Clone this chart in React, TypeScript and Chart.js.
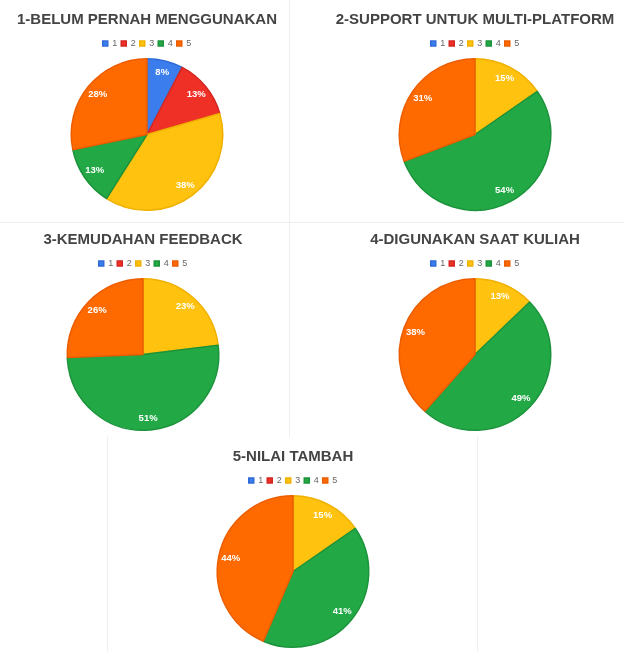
import React, { useEffect, useRef } from "react";
import { Chart, registerables } from "chart.js";

Chart.register(...registerables);

// ---- data ----
const categories = ["1", "2", "3", "4", "5"];
const titles = [
  "1-BELUM PERNAH MENGGUNAKAN",
  "2-SUPPORT UNTUK MULTI-PLATFORM",
  "3-KEMUDAHAN FEEDBACK",
  "4-DIGUNAKAN SAAT KULIAH",
  "5-NILAI TAMBAH",
];
const belumPernah = [3, 5, 15, 5, 11];
const supportMulti = [0, 0, 6, 21, 12];
const kemudahanFeedback = [0, 0, 9, 20, 10];
const digunakanKuliah = [0, 0, 5, 19, 15];
const nilaiTambah = [0, 0, 6, 16, 17];
const seriesList = [belumPernah, supportMulti, kemudahanFeedback, digunakanKuliah, nilaiTambah];

// ---- styles ----
const sliceColors = ["#3b7ded", "#ee3027", "#ffc20e", "#22a946", "#ff6a00"];
const sliceBorders = ["#2f6bd6", "#d42620", "#f0b000", "#1b933b", "#ec5d00"];
const FONT = "'Liberation Sans', Arial, sans-serif";

const panels = [
  { left: 0, top: 0, width: 294 },
  { left: 326, top: 0, width: 298 },
  { left: 0, top: 220, width: 286 },
  { left: 326, top: 220, width: 298 },
  { left: 143, top: 437, width: 300 },
];
const PANEL_H = 220;

const pctLabels = {
  id: "pctLabels",
  afterDatasetsDraw(chart: any) {
    const ctx = chart.ctx;
    const meta = chart.getDatasetMeta(0);
    const data = chart.data.datasets[0].data as number[];
    const total = data.reduce((a, b) => a + b, 0);
    ctx.save();
    ctx.font = `bold 9.5px ${FONT}`;
    ctx.fillStyle = "#ffffff";
    ctx.textAlign = "center";
    ctx.textBaseline = "middle";
    meta.data.forEach((arc: any, i: number) => {
      const v = data[i];
      if (!v) return;
      const p = arc.getProps(["x", "y", "startAngle", "endAngle", "outerRadius"], true);
      const mid = (p.startAngle + p.endAngle) / 2;
      const r = p.outerRadius * 0.84;
      ctx.fillText(Math.round((v / total) * 100) + "%", p.x + Math.cos(mid) * r, p.y + Math.sin(mid) * r);
    });
    ctx.restore();
  },
};

function PiePanel({ idx }: { idx: number }) {
  const ref = useRef<HTMLCanvasElement | null>(null);
  const pan = panels[idx];
  useEffect(() => {
    if (!ref.current) return;
    const chart = new Chart(ref.current, {
      type: "pie",
      data: {
        labels: categories,
        datasets: [
          {
            data: seriesList[idx],
            backgroundColor: sliceColors,
            borderColor: sliceBorders,
            borderWidth: 1.5,
          },
        ],
      },
      options: {
        responsive: false,
        animation: false,
        layout: { padding: { bottom: 9 } },
        plugins: {
          title: {
            display: true,
            text: titles[idx],
            color: "#444444",
            font: { family: FONT, size: 15, weight: "bold" },
            padding: { top: 11, bottom: 6 },
          },
          legend: {
            display: true,
            position: "top",
            labels: {
              boxWidth: 5,
              boxHeight: 5,
              padding: 4,
              color: "#666666",
              font: { family: FONT, size: 9 },
            },
          },
          tooltip: { enabled: false },
        },
      },
      plugins: [pctLabels],
    });
    return () => chart.destroy();
  }, [idx]);
  return (
    <canvas
      ref={ref}
      width={pan.width}
      height={PANEL_H}
      style={{ position: "absolute", left: pan.left, top: pan.top, width: pan.width, height: PANEL_H }}
    />
  );
}

const lineStyle = (s: React.CSSProperties): React.CSSProperties => ({
  position: "absolute",
  background: "#efefef",
  ...s,
});

export default function App() {
  useEffect(() => {
    document.body.style.margin = "0";
  }, []);
  return (
    <div
      style={{
        position: "fixed",
        left: 0,
        top: 0,
        width: 624,
        height: 652,
        background: "#ffffff",
        overflow: "hidden",
      }}
    >
      <div style={lineStyle({ left: 289, top: 0, width: 1, height: 437 })} />
      <div style={lineStyle({ left: 0, top: 222, width: 624, height: 1 })} />
      <div style={lineStyle({ left: 107, top: 437, width: 1, height: 215 })} />
      <div style={lineStyle({ left: 477, top: 437, width: 1, height: 215 })} />
      {panels.map((_, i) => (
        <PiePanel key={i} idx={i} />
      ))}
    </div>
  );
}
